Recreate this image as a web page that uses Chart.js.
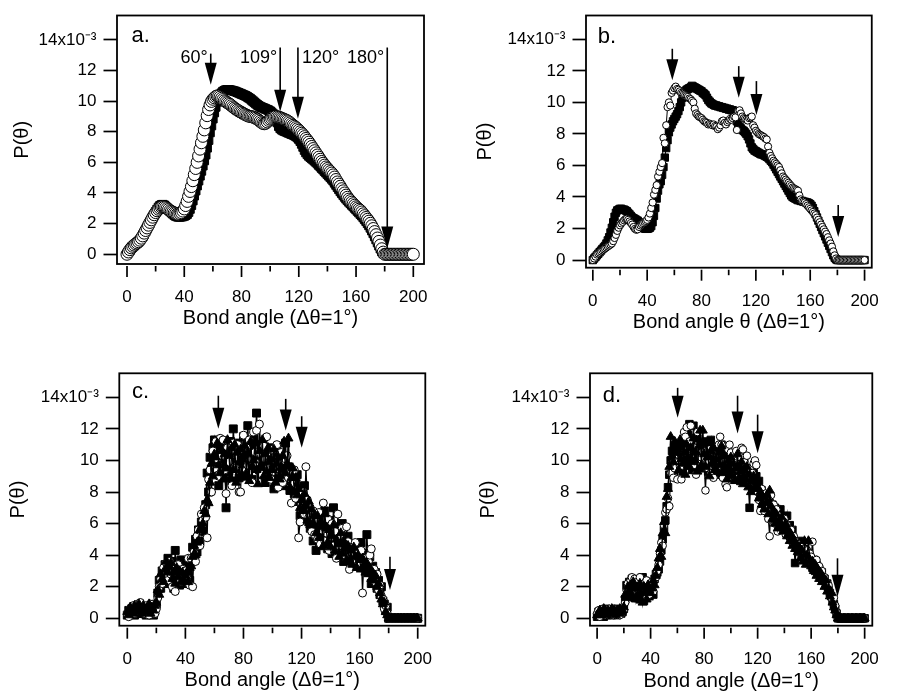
<!DOCTYPE html>
<html><head><meta charset="utf-8">
<script src="https://cdn.jsdelivr.net/npm/chart.js@4.4.1/dist/chart.umd.min.js"></script>
<style>
html,body{margin:0;padding:0;background:#fff;}
body{width:902px;height:694px;position:relative;overflow:hidden;}
canvas{position:absolute;left:0;top:0;}
</style></head><body>
<canvas id="pa" width="902" height="694"></canvas>
<canvas id="pb" width="902" height="694"></canvas>
<canvas id="pc" width="902" height="694"></canvas>
<canvas id="pd" width="902" height="694"></canvas>
<script>
// ---------- DATA (P(theta) in units of 1e-3) ----------
const angles = [0,1,2,3,4,5,6,7,8,9,10,11,12,13,14,15,16,17,18,19,20,21,22,23,24,25,26,27,28,29,30,31,32,33,34,35,36,37,38,39,40,41,42,43,44,45,46,47,48,49,50,51,52,53,54,55,56,57,58,59,60,61,62,63,64,65,66,67,68,69,70,71,72,73,74,75,76,77,78,79,80,81,82,83,84,85,86,87,88,89,90,91,92,93,94,95,96,97,98,99,100,101,102,103,104,105,106,107,108,109,110,111,112,113,114,115,116,117,118,119,120,121,122,123,124,125,126,127,128,129,130,131,132,133,134,135,136,137,138,139,140,141,142,143,144,145,146,147,148,149,150,151,152,153,154,155,156,157,158,159,160,161,162,163,164,165,166,167,168,169,170,171,172,173,174,175,176,177,178,179,180,181,182,183,184,185,186,187,188,189,190,191,192,193,194,195,196,197,198,199,200];
const xTicks = [0,40,80,120,160,200];
const xMinorTicks = [20,60,100,140,180];
const yTicks = [0,2,4,6,8,10,12,14];

// panel a
const aCircles = [0.00,0.15,0.30,0.42,0.52,0.60,0.68,0.74,0.82,0.92,
1.05,1.20,1.38,1.55,1.72,1.90,2.08,2.25,2.42,2.58,
2.72,2.84,2.94,3.02,3.08,3.10,3.08,3.04,2.98,2.92,
2.85,2.80,2.75,2.70,2.66,2.62,2.62,2.66,2.72,2.82,
2.96,3.18,3.45,3.78,4.10,4.42,4.80,5.20,5.60,6.00,
6.42,6.86,7.28,7.70,8.12,8.58,9.05,9.45,9.75,9.98,
10.12,10.22,10.30,10.34,10.32,10.26,10.18,10.10,10.02,9.96,
9.90,9.84,9.78,9.70,9.62,9.55,9.48,9.42,9.36,9.30,
9.26,9.20,9.15,9.10,9.06,9.02,9.00,8.98,8.96,8.92,
8.88,8.82,8.76,8.68,8.60,8.54,8.52,8.56,8.64,8.74,
8.82,8.88,8.94,8.98,9.00,8.98,8.95,8.92,8.88,8.84,
8.80,8.76,8.71,8.65,8.58,8.50,8.42,8.35,8.27,8.19,
8.10,8.00,7.90,7.80,7.68,7.56,7.44,7.32,7.18,7.04,
6.90,6.76,6.62,6.48,6.34,6.20,6.06,5.94,5.82,5.70,
5.60,5.50,5.40,5.30,5.18,5.04,4.88,4.72,4.58,4.44,
4.28,4.14,4.00,3.86,3.72,3.60,3.50,3.40,3.30,3.20,
3.10,3.02,2.94,2.86,2.76,2.64,2.52,2.40,2.28,2.16,
2.02,1.86,1.68,1.48,1.28,1.06,0.84,0.60,0.36,0.14,
0,0,0,0,0,0,0,0,0,0,0,0,0,0,0,0,0,0,0,0,0];
const aSquares = [0.00,0.12,0.25,0.38,0.48,0.56,0.64,0.72,0.80,0.90,
1.02,1.16,1.32,1.50,1.68,1.86,2.04,2.22,2.40,2.58,
2.76,2.92,3.06,3.16,3.22,3.24,3.20,3.12,3.02,2.92,
2.82,2.72,2.64,2.56,2.50,2.46,2.44,2.44,2.45,2.47,
2.50,2.55,2.62,2.75,2.95,3.20,3.50,3.82,4.15,4.48,
4.80,5.12,5.44,5.78,6.12,6.50,6.95,7.45,7.95,8.40,
8.85,9.25,9.62,9.95,10.20,10.40,10.52,10.62,10.68,10.72,
10.74,10.74,10.72,10.70,10.68,10.65,10.62,10.58,10.54,10.50,
10.46,10.42,10.38,10.34,10.28,10.22,10.16,10.08,10.00,9.92,
9.84,9.76,9.70,9.64,9.60,9.56,9.52,9.48,9.44,9.40,
9.34,9.26,9.16,9.02,8.84,8.60,8.36,8.22,8.14,8.08,
8.04,8.00,7.96,7.92,7.88,7.84,7.80,7.76,7.70,7.62,
7.52,7.38,7.20,7.00,6.80,6.64,6.52,6.42,6.34,6.26,
6.18,6.10,6.02,5.92,5.82,5.72,5.62,5.52,5.42,5.32,
5.22,5.12,5.02,4.92,4.80,4.66,4.52,4.38,4.24,4.10,
3.98,3.86,3.74,3.62,3.52,3.42,3.32,3.22,3.12,3.02,
2.92,2.82,2.72,2.62,2.52,2.40,2.28,2.16,2.02,1.88,
1.72,1.54,1.36,1.16,0.96,0.76,0.56,0.36,0.18,0.05,
0,0,0,0,0,0,0,0,0,0,0,0,0,0,0,0,0,0,0,0,0];

// panel b
const bCircles = [0.00,0.10,0.22,0.35,0.42,0.48,0.55,0.62,0.68,0.74,
0.80,0.86,0.92,0.98,1.05,1.20,1.40,1.60,1.85,2.05,
2.20,2.32,2.42,2.52,2.60,2.62,2.55,2.45,2.35,2.25,
2.10,1.98,1.92,1.95,2.10,2.20,2.28,2.35,2.42,2.48,
2.55,2.70,2.95,3.30,3.65,4.15,4.45,4.75,5.30,5.60,
5.90,6.15,7.75,7.40,8.55,9.70,10.00,9.80,10.60,10.75,
10.90,11.00,10.85,10.80,10.70,10.60,10.55,10.50,10.45,10.40,
10.35,10.25,10.20,10.10,10.00,9.60,9.30,9.20,9.10,9.05,
9.00,8.90,8.80,8.75,8.70,8.60,8.65,8.60,8.55,8.60,
8.50,8.45,8.30,8.40,8.55,8.80,8.85,8.70,8.60,8.75,
8.85,8.95,8.90,9.00,9.10,9.05,8.25,9.45,9.50,9.30,
9.10,9.00,8.95,8.90,8.85,9.00,9.05,9.10,8.55,8.40,
8.20,8.10,8.00,7.95,7.90,7.85,7.80,7.70,7.65,7.20,
6.80,6.60,6.45,6.30,6.20,6.10,6.00,5.90,5.70,5.50,
5.30,5.20,5.10,5.00,4.90,4.80,4.70,4.60,4.55,4.50,
4.45,4.40,4.10,3.85,3.75,3.70,3.65,3.55,3.45,3.35,
3.25,3.15,3.05,2.95,2.85,2.70,2.55,2.40,2.25,2.10,
1.95,1.80,1.65,1.45,1.25,1.05,0.85,0.55,0.30,0.10,
0,0,0,0,0,0,0,0,0,0,0,0,0,0,0,0,0,0,0,0,0];
const bSquares = [0.00,0.10,0.20,0.30,0.40,0.50,0.60,0.70,0.80,0.90,
1.05,1.25,1.45,1.75,2.05,2.40,2.75,3.00,3.15,3.20,
3.25,3.25,3.20,3.20,3.15,3.10,3.00,2.90,2.80,2.70,
2.65,2.60,2.55,2.50,2.40,2.30,2.15,2.05,2.00,1.98,
1.98,2.00,2.05,2.15,2.40,2.80,3.30,3.90,4.40,4.80,
5.00,5.40,5.90,6.50,7.10,7.60,8.10,8.40,8.60,8.80,
8.95,9.10,9.25,9.45,9.70,10.00,10.30,10.55,10.70,10.80,
10.85,10.90,10.95,11.05,11.00,10.95,10.90,10.85,10.80,10.75,
10.70,10.60,10.55,10.45,10.30,10.15,10.05,9.95,9.90,9.85,
9.80,9.80,9.75,9.75,9.70,9.70,9.65,9.65,9.60,9.60,
9.55,9.55,9.50,9.50,9.40,9.10,8.80,8.55,8.45,8.35,
8.25,8.20,8.10,8.00,7.85,7.65,7.40,7.15,7.05,6.95,
6.90,6.85,6.80,6.75,6.70,6.70,6.65,6.60,6.55,6.50,
6.40,6.30,6.20,6.05,5.90,5.75,5.60,5.45,5.30,5.15,
5.00,4.85,4.70,4.55,4.40,4.25,4.10,4.00,3.95,3.90,
3.85,3.80,3.80,3.75,3.75,3.70,3.70,3.65,3.65,3.60,
3.55,3.45,3.30,3.10,2.90,2.70,2.50,2.30,2.10,1.90,
1.70,1.50,1.30,1.10,0.90,0.70,0.50,0.30,0.15,0.05,
0,0,0,0,0,0,0,0,0,0,0,0,0,0,0,0,0,0,0,0,0];

// panel c
const cSquares = [0.2,0.5,0.3,0.6,0.4,0.2,0.5,0.7,0.3,0.4,
0.6,0.3,0.5,0.2,0.7,0.4,0.3,0.6,0.2,0.5,
0.9,1.6,2.4,1.9,3.0,2.6,3.4,2.2,3.8,2.9,
2.4,3.6,1.9,4.3,2.7,3.3,2.1,3.7,2.5,3.1,
2.2,3.4,2.8,2.4,3.6,4.5,3.8,5.0,4.2,5.6,
4.9,6.1,5.5,6.6,7.2,9.2,8.0,10.2,9.4,10.8,
11.3,9.6,10.9,8.4,10.3,11.0,9.1,10.7,7.0,10.0,
9.3,11.2,8.7,12.0,10.1,9.5,11.1,8.9,10.6,9.8,
11.5,9.0,10.4,12.2,9.7,10.9,8.8,11.3,10.2,13.0,
10.5,9.4,11.0,9.9,10.7,8.6,10.3,9.2,10.8,9.6,
10.1,8.2,9.8,10.6,8.9,9.5,10.4,8.4,9.9,11.1,
8.7,9.6,8.1,9.3,8.8,7.9,8.5,9.1,7.4,6.5,
7.8,6.3,8.4,6.9,7.2,6.1,5.7,6.6,4.9,5.8,
4.3,6.0,6.4,5.2,4.6,5.9,6.8,5.0,4.4,6.2,
5.5,4.1,7.0,4.8,5.3,4.0,5.8,4.5,6.0,3.6,
4.9,3.9,5.2,4.2,3.5,4.7,3.8,4.4,3.3,4.6,
3.9,4.8,3.4,4.1,3.6,5.3,3.0,3.9,2.2,3.3,
2.6,2.9,1.9,2.4,1.5,2.0,1.1,0.9,0.5,0.7,
0,0,0,0,0,0,0,0,0,0,0,0,0,0,0,0,0,0,0,0,0];
const cCircles = [0.3,0.1,0.6,0.4,0.8,0.3,0.5,0.9,0.4,1.0,
0.5,0.7,0.3,0.8,0.6,0.2,0.9,0.4,0.7,0.3,
0.6,1.3,2.0,2.5,2.2,3.2,2.7,3.5,2.4,3.6,
2.8,2.0,3.3,1.7,2.9,3.4,2.3,2.7,3.1,2.5,
3.0,2.6,3.8,2.1,3.8,2.0,4.2,3.6,5.2,5.6,
4.6,6.6,6.2,7.0,6.4,5.1,8.8,9.4,8.0,10.6,
9.5,11.2,10.1,9.0,11.4,10.3,11.3,9.4,7.9,10.8,
9.9,10.6,8.4,11.1,9.6,10.2,11.0,8.0,8.0,10.4,
11.6,9.3,10.8,9.7,11.3,10.0,8.6,11.8,10.5,11.9,
9.8,12.3,10.4,9.1,10.9,10.1,11.5,9.5,10.2,8.8,
10.7,9.3,10.0,11.0,8.3,9.7,10.5,8.6,9.9,10.1,
10.3,8.9,9.2,7.3,8.5,9.4,7.6,8.1,5.1,6.1,
7.2,8.0,6.6,9.6,7.5,6.4,7.0,5.5,6.8,5.3,
6.1,5.0,6.7,4.7,5.6,7.3,4.9,5.4,6.3,4.3,
5.0,6.0,4.6,5.5,3.8,6.6,4.4,5.1,5.7,4.2,
3.9,5.8,4.85,3.1,4.5,4.0,3.7,4.8,3.5,4.1,
3.4,4.3,1.6,3.8,3.2,2.9,3.6,4.0,4.4,2.7,
3.1,2.3,2.8,1.8,2.1,1.4,1.2,0.6,0.8,0.3,
0,0,0,0,0,0,0,0,0,0,0,0,0,0,0,0,0,0,0,0,0];
const cTriangles = [0.4,0.2,0.7,0.5,0.3,0.8,0.6,0.4,0.9,0.5,
0.3,0.8,0.6,0.4,0.5,0.9,0.3,0.7,0.5,0.8,
1.0,1.8,1.5,2.8,2.5,2.3,3.1,3.6,2.9,3.3,
3.5,2.5,2.9,2.2,3.2,2.6,3.0,2.3,2.9,2.4,
2.7,2.9,2.3,3.2,3.3,3.9,4.6,4.0,4.8,4.9,
5.6,5.8,6.0,6.8,6.6,7.5,7.3,8.6,9.8,9.0,
10.4,10.2,11.1,9.7,9.2,10.6,8.8,10.4,9.5,11.3,
10.4,8.9,10.8,9.4,11.0,8.6,10.5,9.9,10.7,9.1,
10.3,10.9,9.2,10.5,8.7,11.2,9.6,10.0,11.1,9.4,
8.5,10.6,9.7,11.3,9.0,10.4,9.3,10.8,8.9,10.1,
9.4,10.7,8.6,9.8,10.2,8.8,9.6,10.3,11.2,9.2,
9.8,11.4,8.3,8.9,9.5,8.0,8.9,7.8,8.2,7.0,
7.5,6.8,7.9,7.1,6.2,7.4,5.9,6.9,6.0,6.5,
5.4,6.5,5.1,6.1,5.8,4.6,6.6,5.7,4.8,5.6,
4.5,5.2,5.9,4.3,5.0,4.7,3.9,5.4,4.1,4.9,
4.4,3.7,4.6,3.6,4.3,3.4,4.5,3.9,3.2,4.0,
3.7,3.1,3.8,3.3,2.9,3.5,2.8,3.2,2.5,2.9,
2.4,2.7,2.0,2.2,1.6,1.2,0.9,1.0,0.4,0.2,
0,0,0,0,0,0,0,0,0,0,0,0,0,0,0,0,0,0,0,0,0];

// panel d
const dSquares = [0.1,0.4,0.2,0.5,0.3,0.1,0.4,0.6,0.2,0.3,
0.5,0.2,0.4,0.3,0.6,0.2,0.4,0.5,0.3,0.4,
0.6,1.2,2.1,1.6,2.3,1.4,2.5,1.8,1.3,2.2,
1.5,2.4,1.2,1.9,2.6,1.1,2.0,1.6,2.3,1.4,
1.9,2.2,1.5,2.5,2.8,2.9,3.1,3.6,4.3,5.0,
5.6,6.2,7.1,8.3,9.1,10.0,10.6,9.4,10.8,9.8,
11.0,10.2,9.6,10.9,9.3,11.2,10.4,9.7,11.6,12.3,
10.1,9.4,12.2,10.8,9.8,11.4,10.0,9.5,11.1,10.3,
9.7,11.2,10.5,9.3,10.9,11.3,9.9,10.2,9.4,10.7,
10.0,9.1,10.6,11.0,9.6,10.1,8.9,10.4,9.5,10.2,
9.2,10.3,9.7,8.8,10.0,9.4,9.9,8.7,9.6,9.1,
10.1,8.9,9.3,8.6,7.0,9.5,8.8,9.2,8.4,9.0,
8.2,8.7,7.9,8.1,7.4,7.7,6.9,7.5,7.0,7.3,
6.8,7.2,6.5,7.0,6.3,6.7,6.1,6.9,6.4,5.9,
6.2,5.8,6.5,5.5,5.9,5.2,5.6,4.9,3.5,4.8,
4.5,4.9,4.2,4.6,3.9,4.4,3.8,4.1,3.5,3.9,
3.6,3.2,3.7,3.0,3.4,2.8,3.1,2.6,2.9,2.4,
2.5,2.1,2.2,1.8,1.6,1.4,1.1,0.9,0.6,0.3,
0,0,0,0,0,0,0,0,0,0,0,0,0,0,0,0,0,0,0,0,0];
const dCircles = [0.3,0.5,0.1,0.4,0.6,0.3,0.2,0.5,0.4,0.6,
0.3,0.5,0.2,0.6,0.4,0.3,0.5,0.2,0.6,0.4,
0.5,1.0,1.8,2.2,1.9,2.4,2.6,2.0,2.5,1.7,
2.3,1.8,2.6,2.1,1.6,2.2,1.4,2.4,1.8,1.5,
2.0,2.3,1.7,2.4,2.6,3.0,3.4,4.1,4.8,4.6,
5.9,6.7,6.9,7.6,7.1,9.2,9.8,8.9,9.5,10.1,
8.8,9.9,9.6,8.8,10.4,11.8,11.5,12.1,10.9,11.2,
12.2,10.3,9.7,10.8,9.1,11.8,10.6,9.9,10.2,10.6,
9.8,8.1,10.0,9.5,10.7,9.2,10.4,8.9,9.8,10.3,
9.6,11.0,11.5,11.0,8.9,9.9,8.5,8.3,10.7,11.0,
10.5,9.6,10.1,9.0,10.6,10.0,9.3,10.2,10.8,10.7,
9.9,9.4,10.3,8.9,9.5,8.6,9.2,9.8,10.0,9.7,
8.0,7.5,6.8,8.2,7.4,6.8,7.9,7.0,6.3,5.2,
7.8,6.6,7.2,6.0,6.9,5.5,6.5,6.1,5.8,5.6,
6.3,5.3,5.9,5.4,5.1,5.6,4.8,5.2,4.9,4.4,
4.7,4.2,4.6,3.9,4.4,4.0,3.8,4.3,3.6,4.1,
3.9,4.85,3.5,3.2,3.7,2.9,3.3,2.7,3.0,2.5,
2.6,2.3,2.0,2.1,1.7,1.5,1.2,1.3,0.8,0.4,
0,0,0,0,0,0,0,0,0,0,0,0,0,0,0,0,0,0,0,0,0];
const dTriangles = [0.2,0.3,0.5,0.2,0.4,0.6,0.3,0.2,0.5,0.3,
0.4,0.6,0.3,0.5,0.2,0.5,0.3,0.6,0.4,0.5,
0.7,1.5,1.3,2.0,1.7,2.1,1.5,2.3,1.9,1.2,
1.9,1.3,2.2,1.6,1.0,2.0,1.7,1.2,2.1,1.8,
1.6,1.9,2.4,2.1,2.7,3.2,3.8,4.4,3.9,5.4,
6.1,5.4,7.7,8.2,9.6,11.5,10.3,9.9,11.2,10.5,
10.7,9.4,11.3,10.1,9.8,10.5,9.1,11.0,10.2,9.6,
10.8,9.9,11.4,10.0,10.5,9.3,10.9,11.9,9.7,11.9,
10.4,9.6,11.1,10.2,9.0,10.6,9.8,10.8,9.4,10.1,
9.3,10.5,9.7,10.9,9.2,10.3,9.6,8.8,10.0,9.4,
10.2,9.0,9.8,8.7,9.5,10.4,8.9,9.3,9.9,8.5,
9.4,8.8,9.6,8.3,9.1,8.0,8.7,9.0,8.2,8.6,
8.3,7.6,8.0,7.2,7.7,6.9,7.3,7.8,6.6,8.1,
7.1,6.3,6.8,6.0,6.6,5.7,6.2,5.8,6.4,5.5,
5.8,6.0,5.2,5.6,4.9,5.3,4.6,5.0,4.4,4.7,
4.2,4.5,3.8,4.3,3.6,4.9,3.4,4.0,4.9,3.7,
3.3,3.6,3.0,3.4,2.7,3.1,2.5,2.9,2.3,2.6,
2.0,2.4,1.7,1.9,1.4,1.6,1.0,0.7,0.5,0.2,
0,0,0,0,0,0,0,0,0,0,0,0,0,0,0,0,0,0,0,0,0];

// arrows: angle, top of shaft (P units), tip (P units)
const arrowLabels = ['60°','109°','120°','180°'];
const arrowAnglesA = [58.5,107,119.4,181.8];
const arrowTopA = [13.1,13.5,13.5,13.5];
const arrowTipA = [11.07,9.3,8.85,0.38];
const arrowLabelYA = 12.5;
const arrowAnglesB = [58.5,107.4,120.4,180.6];
const arrowTopB = [13.4,12.3,11.35,3.5];
const arrowTipB = [11.4,10.3,9.2,1.47];
const arrowAnglesC = [62.7,109.1,120.1,180.9];
const arrowTopC = [14.1,13.9,12.8,3.9];
const arrowTipC = [12.0,11.9,10.8,1.8];
const arrowAnglesD = [60.2,105,120,179.7];
const arrowTopD = [14.6,14.1,12.9,3.8];
const arrowTipD = [12.7,11.7,10.45,1.37];

// ---------- RENDERING ----------
Chart.defaults.font.family = "'Liberation Sans', Arial, Helvetica, sans-serif";
Chart.defaults.color = '#000';
const W = 902, H = 694;

function pts(vals){ return angles.map((a,i)=>({x:a, y:vals[i]})); }
function ds(vals, kind, r, lw){
  return {
    data: pts(vals), showLine:true, borderColor:'#000', borderWidth:lw || 1, tension:0, fill:false,
    pointStyle: kind==='circle' ? 'circle' : (kind==='square' ? 'rect' : 'triangle'),
    pointRadius:r, pointBorderWidth:1, pointBorderColor:'#000',
    pointBackgroundColor: kind==='circle' ? '#fff' : '#000'
  };
}

function decor(cfg){
  return {
    id:'decor'+cfg.id,
    afterDatasetsDraw(chart){
      const ctx = chart.ctx, ca = chart.chartArea, xs = chart.scales.x, ys = chart.scales.y;
      ctx.save();
      ctx.strokeStyle = '#000'; ctx.fillStyle = '#000';
      ctx.lineWidth = 1.8;
      ctx.strokeRect(ca.left, ca.top, ca.right-ca.left, ca.bottom-ca.top);
      ctx.lineWidth = 1.7;
      xTicks.forEach(v=>{ const px = xs.getPixelForValue(v);
        ctx.beginPath(); ctx.moveTo(px, ca.bottom+2); ctx.lineTo(px, ca.bottom+13); ctx.stroke(); });
      xMinorTicks.forEach(v=>{ const px = xs.getPixelForValue(v);
        ctx.beginPath(); ctx.moveTo(px, ca.bottom+2); ctx.lineTo(px, ca.bottom+7.5); ctx.stroke(); });
      cfg.arrowX.forEach((a,i)=>{
        const px = xs.getPixelForValue(a), yt = ys.getPixelForValue(cfg.arrowTop[i]), yp = ys.getPixelForValue(cfg.arrowTip[i]);
        const hl = cfg.headLen, hw = cfg.headHalf;
        ctx.lineWidth = 1.6;
        ctx.beginPath(); ctx.moveTo(px, yt); ctx.lineTo(px, yp-hl+1); ctx.stroke();
        ctx.beginPath(); ctx.moveTo(px-hw, yp-hl); ctx.lineTo(px+hw, yp-hl); ctx.lineTo(px, yp); ctx.closePath(); ctx.fill();
      });
      if (cfg.showLabels){
        ctx.font = "18px 'Liberation Sans', Arial, Helvetica, sans-serif";
        ctx.textBaseline = 'alphabetic';
        const by = ys.getPixelForValue(arrowLabelYA);
        cfg.arrowX.forEach((a,i)=>{
          const px = xs.getPixelForValue(a);
          if (cfg.labelSide[i]==='left'){ ctx.textAlign='left'; ctx.fillText(arrowLabels[i], px+4, by); }
          else { ctx.textAlign='right'; ctx.fillText(arrowLabels[i], px-3, by); }
        });
      }
      ctx.font = "22px 'Liberation Sans', Arial, Helvetica, sans-serif";
      ctx.textAlign='left'; ctx.textBaseline='alphabetic';
      ctx.fillText(cfg.letter, ca.left+cfg.letterDx, ca.top+cfg.letterDy);
      ctx.restore();
    }
  };
}

function makePanel(cfg){
  const yTitleHalf = 12, xTitleHalf = 12;
  const padL = cfg.yTitleX - yTitleHalf;
  const yW = cfg.caL - padL;
  const xH = cfg.xTitleDy + xTitleHalf;
  new Chart(document.getElementById(cfg.id), {
    type:'line',
    data:{ datasets: cfg.datasets },
    options:{
      responsive:false, animation:false, events:[],
      layout:{ padding:{ left:padL, right:W-cfg.caR, top:cfg.caT, bottom:H-cfg.caB-xH } },
      plugins:{ legend:{display:false}, tooltip:{enabled:false} },
      scales:{
        x:{ type:'linear', min:cfg.xMin, max:cfg.xMax,
          afterBuildTicks:s=>{ s.ticks = xTicks.map(v=>({value:v})); },
          afterFit:s=>{ s.height = xH; },
          grid:{ display:false, drawTicks:false }, border:{ display:false },
          ticks:{ padding:23, font:{size:17}, maxRotation:0, autoSkip:false, callback:v=>String(v) },
          title:{ display:true, text:cfg.xTitle, font:{size:20}, padding:0 } },
        y:{ type:'linear', min:cfg.yMin, max:cfg.yMax,
          afterBuildTicks:s=>{ s.ticks = yTicks.map(v=>({value:v})); },
          afterFit:s=>{ s.width = yW; },
          grid:{ drawOnChartArea:false, drawTicks:true, tickLength:13.5, tickWidth:1.7, tickColor:'#000' },
          border:{ display:false },
          ticks:{ padding:7, font:{size:17, lineHeight:1}, autoSkip:false, callback:v=> v===14 ? '14x10\u207B\u00B3' : String(v) },
          title:{ display:true, text:'P(θ)', font:{size:20}, padding:0 } }
      }
    },
    plugins:[decor(cfg)]
  });
}

makePanel({ id:'pa', caL:117, caR:424, caT:9, caB:264, xMin:-6.99, xMax:207.47, yMin:-0.636, yMax:15.59,
  yTitleX:22.5, xTitleDy:54.5, xTitle:'Bond angle (Δθ=1°)', letter:'a.', letterDx:14.5, letterDy:26,
  datasets:[ ds(aCircles,'circle',6), ds(aSquares,'square',6) ],
  arrowX:arrowAnglesA, arrowTop:arrowTopA, arrowTip:arrowTipA, headLen:22, headHalf:6,
  showLabels:true, labelSide:['right','right','left','right'] });

makePanel({ id:'pb', caL:586, caR:891.7, caT:13.3, caB:267.7, xMin:-5.02, xMax:205.3, yMin:-0.484, yMax:15.51,
  yTitleX:485, xTitleDy:54.5, xTitle:'Bond angle θ (Δθ=1°)', letter:'b.', letterDx:11.7, letterDy:27,
  datasets:[ ds(bCircles,'circle',3.6), ds(bSquares,'square',5.2) ],
  arrowX:arrowAnglesB, arrowTop:arrowTopB, arrowTip:arrowTipB, headLen:21, headHalf:6, showLabels:false });

makePanel({ id:'pc', caL:119.3, caR:425.3, caT:373.3, caB:625.7, xMin:-5.51, xMax:205.23, yMin:-0.469, yMax:15.52,
  yTitleX:18, xTitleDy:54.5, xTitle:'Bond angle (Δθ=1°)', letter:'c.', letterDx:12.7, letterDy:25,
  datasets:[ ds(cTriangles,'triangle',5.2,1.4), ds(cCircles,'circle',4,1.2), ds(cSquares,'square',5.6,1.4) ],
  arrowX:arrowAnglesC, arrowTop:arrowTopC, arrowTip:arrowTipC, headLen:21, headHalf:6, showLabels:false });

makePanel({ id:'pd', caL:590, caR:896, caT:373.3, caB:625.7, xMin:-5.31, xMax:205.72, yMin:-0.469, yMax:15.52,
  yTitleX:488, xTitleDy:56, xTitle:'Bond angle (Δθ=1°)', letter:'d.', letterDx:12.7, letterDy:28.5,
  datasets:[ ds(dTriangles,'triangle',5.2,1.4), ds(dCircles,'circle',3.8,1.2), ds(dSquares,'square',5.3,1.4) ],
  arrowX:arrowAnglesD, arrowTop:arrowTopD, arrowTip:arrowTipD, headLen:22, headHalf:6, showLabels:false });
</script>
</body></html>
